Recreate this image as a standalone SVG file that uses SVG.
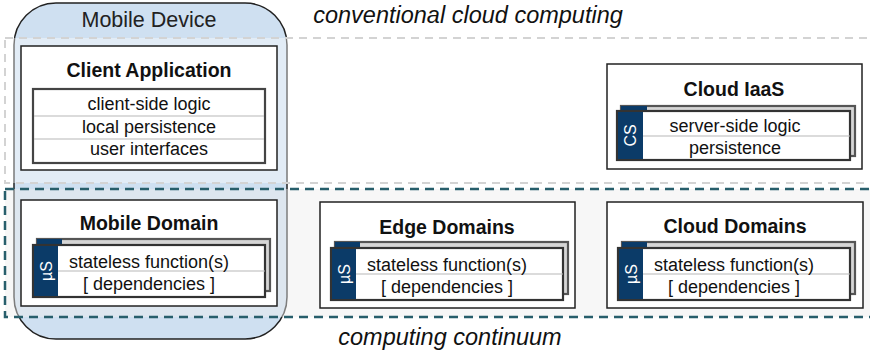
<svg xmlns="http://www.w3.org/2000/svg" width="870" height="356" viewBox="0 0 870 356">
<style>
text{font-family:"Liberation Sans",Arial,sans-serif;fill:#111;}
.title{font-size:19.5px;font-weight:bold;text-anchor:middle;dominant-baseline:central;}
.body{font-size:18px;text-anchor:middle;dominant-baseline:central;}
.region{font-size:23.5px;font-style:italic;text-anchor:middle;dominant-baseline:central;}
.tabtxt{font-size:16px;fill:#fff;text-anchor:middle;dominant-baseline:central;}
.box{fill:#fff;stroke:#222;stroke-width:1.5;}
.back{fill:#d6d6d6;stroke:#555;stroke-width:2.2;}
.front{fill:#fff;stroke:#333;stroke-width:2.2;}
.tab{fill:#0b3b68;}
.div{stroke:#b8b8b8;stroke-width:1.2;}
</style>
<defs>
<g id="fcard">
<rect class="back" x="4" y="-6" width="233" height="52"/>
<rect class="tab" x="4" y="-6" width="25" height="6"/>
<rect class="front" x="0" y="0" width="232" height="52"/>
<rect class="tab" x="1" y="1" width="24" height="50"/>
<line class="div" x1="25" y1="26" x2="232" y2="26"/>
<text class="tabtxt" transform="translate(13,26) rotate(-90)">µS</text>
<text class="body" x="116" y="17">stateless function(s)</text>
<text class="body" x="116" y="39">[ dependencies ]</text>
</g>
</defs>

<g id="mobile-device">
<rect x="14" y="3" width="273" height="336" rx="42" ry="42" fill="#cfe0f1" stroke="#222" stroke-width="1.5"/>
<text x="149" y="20" style="font-size:21.5px;text-anchor:middle;dominant-baseline:central;fill:#222">Mobile Device</text>
</g>

<g id="conventional-cloud-computing">
<rect x="5" y="38" width="875" height="145" fill="#fff" fill-opacity="0.4" stroke="#d3d3d3" stroke-width="2" stroke-dasharray="8 6"/>
<text class="region" x="468" y="15">conventional cloud computing</text>
</g>

<g id="computing-continuum">
<rect x="5" y="189" width="875" height="128" fill="#eeeeee" fill-opacity="0.45" stroke="#275e6b" stroke-width="2.5" stroke-dasharray="9 6"/>
<text class="region" x="450" y="337">computing continuum</text>
</g>

<g id="client-application">
<rect class="box" x="21" y="46" width="256" height="124"/>
<text class="title" x="149" y="70">Client Application</text>
<rect x="33" y="89" width="232" height="74" fill="#fff" stroke="#444" stroke-width="2.2"/>
<line class="div" x1="34" y1="116" x2="264" y2="116"/>
<line class="div" x1="34" y1="139" x2="264" y2="139"/>
<text class="body" x="149" y="104">client-side logic</text>
<text class="body" x="149" y="127">local persistence</text>
<text class="body" x="149" y="149">user interfaces</text>
</g>

<g id="cloud-iaas">
<rect class="box" x="607" y="64" width="255" height="105"/>
<text class="title" x="734" y="89">Cloud IaaS</text>
<rect class="back" x="621" y="106" width="234" height="50"/>
<rect class="tab" x="621" y="106" width="26" height="5"/>
<rect class="front" x="617" y="111" width="233" height="49"/>
<rect class="tab" x="618" y="112" width="25" height="47"/>
<line class="div" x1="643" y1="136" x2="850" y2="136"/>
<text class="tabtxt" transform="translate(630,135.5) rotate(-90)">CS</text>
<text class="body" x="735" y="126">server-side logic</text>
<text class="body" x="735" y="148">persistence</text>
</g>

<g id="mobile-domain">
<rect class="box" x="21" y="200" width="256" height="106"/>
<text class="title" x="149" y="223">Mobile Domain</text>
<use href="#fcard" x="33" y="245"/>
</g>

<g id="edge-domains">
<rect class="box" x="320" y="202" width="255" height="106"/>
<text class="title" x="447" y="227">Edge Domains</text>
<use href="#fcard" x="331" y="248"/>
</g>

<g id="cloud-domains">
<rect class="box" x="607" y="202" width="256" height="106"/>
<text class="title" x="735" y="226">Cloud Domains</text>
<use href="#fcard" x="618" y="248"/>
</g>

<g id="connectors"></g>
</svg>
